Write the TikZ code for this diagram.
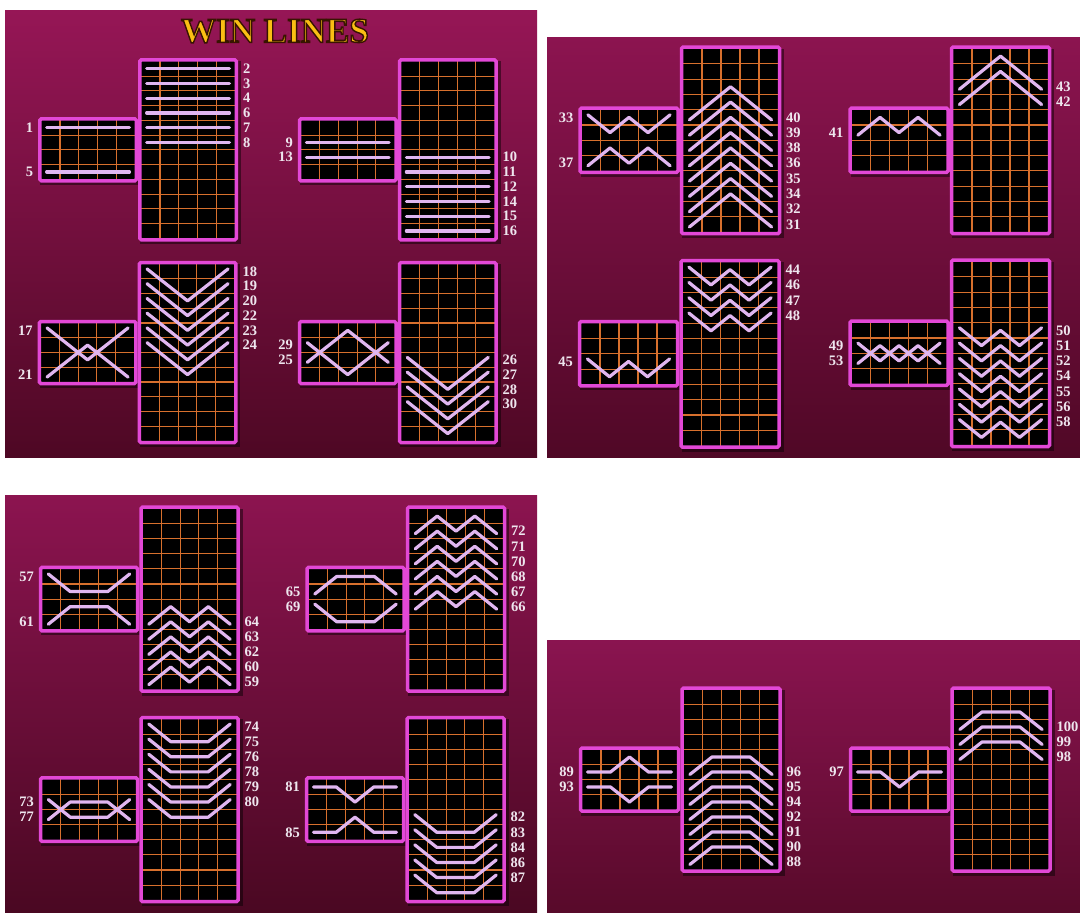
\documentclass[tikz,border=0pt]{standalone}
\usepackage{fontspec}
\setmainfont{Liberation Serif}
\newfontfamily\titlefont[FakeBold=4]{Liberation Serif Bold}
\definecolor{gridc}{RGB}{215,112,45}
\definecolor{bordc}{RGB}{226,72,214}
\definecolor{linec}{RGB}{224,182,240}
\definecolor{labc}{RGB}{238,230,238}
\definecolor{goldc}{RGB}{250,190,20}
\definecolor{pAt}{RGB}{150,22,86}
\definecolor{pAb}{RGB}{78,8,36}
\definecolor{pBt}{RGB}{140,20,80}
\definecolor{pBb}{RGB}{80,8,38}
\definecolor{pCt}{RGB}{140,20,80}
\definecolor{pCb}{RGB}{74,8,34}
\definecolor{pDt}{RGB}{138,20,80}
\definecolor{pDb}{RGB}{88,10,42}
\tikzset{
  gridln/.style={draw=gridc, line width=1.1pt},
  boxbd/.style={draw=bordc, line width=3.5pt, rounded corners=1.5pt},
  boxsh/.style={fill=black, opacity=0.45},
  payline/.style={draw=linec, line width=3.2pt, line cap=round, line join=round, shorten <=-4pt, shorten >=-4pt},
  lab/.style={text=labc, font=\bfseries\fontsize{14.5}{15}\selectfont, inner sep=0pt},
  titlefg/.style={text=goldc, font=\titlefont\fontsize{35}{38}\selectfont, inner sep=0pt},
}
\newcommand\Grp[4]{%
  \def\gL{#1}\def\gT{#2}\def\gw{#3}\def\gh{#4}%
  \pgfmathsetmacro\tR{#1+5*#3}%
  \pgfmathsetmacro\tB{#2+12*#4}%
  \pgfmathsetmacro\sL{#1-6.5-5*#3}%
  \pgfmathsetmacro\sR{#1-6.5}%
  \pgfmathsetmacro\sT{#2+4*#4}%
  \pgfmathsetmacro\sB{#2+8*#4}%
  \fill[boxsh] (\gL-1,\gT) rectangle (\tR+6,\tB+6);
  \fill[boxsh] (\sL-1,\sT) rectangle (\sR+6,\sB+6);
  \fill[black] (\gL,\gT) rectangle (\tR,\tB);
  \foreach \i in {1,...,4}{\draw[gridln] ({\gL+\i*\gw},\gT) -- ({\gL+\i*\gw},\tB);}
  \foreach \j in {1,...,11}{\draw[gridln] (\gL,{\gT+\j*\gh}) -- (\tR,{\gT+\j*\gh});}
  \draw[boxbd] (\gL-1.5,\gT-1.5) rectangle (\tR+1.5,\tB+1.5);
  \fill[black] (\sL,\sT) rectangle (\sR,\sB);
  \foreach \i in {1,...,4}{\draw[gridln] ({\sL+\i*\gw},\sT) -- ({\sL+\i*\gw},\sB);}
  \foreach \j in {1,2,3}{\draw[gridln] (\sL,{\sT+\j*\gh}) -- (\sR,{\sT+\j*\gh});}
  \draw[boxbd] (\sL-1.5,\sT-1.5) rectangle (\sR+1.5,\sB+1.5);
}
\newcommand\TallLine[6]{%
  \draw[payline] ({\gL+0.5*\gw},{\gT+(#1-0.5)*\gh}) -- ({\gL+1.5*\gw},{\gT+(#2-0.5)*\gh}) -- ({\gL+2.5*\gw},{\gT+(#3-0.5)*\gh}) -- ({\gL+3.5*\gw},{\gT+(#4-0.5)*\gh}) -- ({\gL+4.5*\gw},{\gT+(#5-0.5)*\gh});
  \node[lab,anchor=west] (n#6) at ({\tR+8},{\gT+(#5-0.5)*\gh}) {#6};
}
\newcommand\SmallLine[6]{%
  \draw[payline] ({\sL+0.5*\gw},{\sT+(#1-0.5)*\gh}) -- ({\sL+1.5*\gw},{\sT+(#2-0.5)*\gh}) -- ({\sL+2.5*\gw},{\sT+(#3-0.5)*\gh}) -- ({\sL+3.5*\gw},{\sT+(#4-0.5)*\gh}) -- ({\sL+4.5*\gw},{\sT+(#5-0.5)*\gh});
  \node[lab,anchor=east] (n#6) at ({\sL-8},{\sT+(#1-0.5)*\gh}) {#6};
}
\begin{document}
\begin{tikzpicture}[x=1pt,y=-1pt]
\useasboundingbox (0,0) rectangle (1080,913);
\fill[white] (0,0) rectangle (1080,913);
% panels
\shade[top color=pAt, bottom color=pAb] (5,10) rectangle (537,457);
\shade[top color=pBt, bottom color=pBb] (547,37) rectangle (1080,457);
\shade[top color=pCt, bottom color=pCb] (5,495) rectangle (537,913);
\shade[top color=pDt, bottom color=pDb] (547,640) rectangle (1080,913);
% title
\node[titlefg] (title) at (275,31) {\special{pdf:code 0.22 0.08 0 RG}WIN LINES};
% ---- group 1
\Grp{141.3}{61.3}{18.7}{14.75}
\SmallLine{1}{1}{1}{1}{1}{1}
\SmallLine{4}{4}{4}{4}{4}{5}
\TallLine{1}{1}{1}{1}{1}{2}
\TallLine{2}{2}{2}{2}{2}{3}
\TallLine{3}{3}{3}{3}{3}{4}
\TallLine{4}{4}{4}{4}{4}{6}
\TallLine{5}{5}{5}{5}{5}{7}
\TallLine{6}{6}{6}{6}{6}{8}
% ---- group 2
\Grp{401}{61.3}{18.7}{14.75}
\SmallLine{2}{2}{2}{2}{2}{9}
\SmallLine{3}{3}{3}{3}{3}{13}
\TallLine{7}{7}{7}{7}{7}{10}
\TallLine{8}{8}{8}{8}{8}{11}
\TallLine{9}{9}{9}{9}{9}{12}
\TallLine{10}{10}{10}{10}{10}{14}
\TallLine{11}{11}{11}{11}{11}{15}
\TallLine{12}{12}{12}{12}{12}{16}
% ---- group 3
\Grp{140.8}{264}{18.7}{14.75}
\SmallLine{1}{2}{3}{2}{1}{17}
\SmallLine{4}{3}{2}{3}{4}{21}
\TallLine{1}{2}{3}{2}{1}{18}
\TallLine{2}{3}{4}{3}{2}{19}
\TallLine{3}{4}{5}{4}{3}{20}
\TallLine{4}{5}{6}{5}{4}{22}
\TallLine{5}{6}{7}{6}{5}{23}
\TallLine{6}{7}{8}{7}{6}{24}
% ---- group 4
\Grp{401}{264}{18.7}{14.75}
\SmallLine{2}{3}{4}{3}{2}{29}
\SmallLine{3}{2}{1}{2}{3}{25}
\TallLine{7}{8}{9}{8}{7}{26}
\TallLine{8}{9}{10}{9}{8}{27}
\TallLine{9}{10}{11}{10}{9}{28}
\TallLine{10}{11}{12}{11}{10}{30}
% ---- group 5
\Grp{683}{48.5}{19}{15.3}
\SmallLine{1}{2}{1}{2}{1}{33}
\SmallLine{4}{3}{4}{3}{4}{37}
\TallLine{5}{4}{3}{4}{5}{40}
\TallLine{6}{5}{4}{5}{6}{39}
\TallLine{7}{6}{5}{6}{7}{38}
\TallLine{8}{7}{6}{7}{8}{36}
\TallLine{9}{8}{7}{8}{9}{35}
\TallLine{10}{9}{8}{9}{10}{34}
\TallLine{11}{10}{9}{10}{11}{32}
\TallLine{12}{11}{10}{11}{12}{31}
% ---- group 6
\Grp{953}{48.5}{19}{15.3}
\SmallLine{2}{1}{2}{1}{2}{41}
\TallLine{3}{2}{1}{2}{3}{43}
\TallLine{4}{3}{2}{3}{4}{42}
% ---- group 7
\Grp{682.5}{262}{19}{15.3}
\SmallLine{3}{4}{3}{4}{3}{45}
\TallLine{1}{2}{1}{2}{1}{44}
\TallLine{2}{3}{2}{3}{2}{46}
\TallLine{3}{4}{3}{4}{3}{47}
\TallLine{4}{5}{4}{5}{4}{48}
% ---- group 8
\Grp{953}{261.5}{19}{15.3}
\SmallLine{2}{3}{2}{3}{2}{49}
\SmallLine{3}{2}{3}{2}{3}{53}
\TallLine{5}{6}{5}{6}{5}{50}
\TallLine{6}{7}{6}{7}{6}{51}
\TallLine{7}{8}{7}{8}{7}{52}
\TallLine{8}{9}{8}{9}{8}{54}
\TallLine{9}{10}{9}{10}{9}{55}
\TallLine{10}{11}{10}{11}{10}{56}
\TallLine{11}{12}{11}{12}{11}{58}
% ---- group 9
\Grp{142.5}{508.5}{18.8}{15.1}
\SmallLine{1}{2}{2}{2}{1}{57}
\SmallLine{4}{3}{3}{3}{4}{61}
\TallLine{8}{7}{8}{7}{8}{64}
\TallLine{9}{8}{9}{8}{9}{63}
\TallLine{10}{9}{10}{9}{10}{62}
\TallLine{11}{10}{11}{10}{11}{60}
\TallLine{12}{11}{12}{11}{12}{59}
% ---- group 10
\Grp{409}{508.5}{18.8}{15.1}
\SmallLine{2}{1}{1}{1}{2}{65}
\SmallLine{3}{4}{4}{4}{3}{69}
\TallLine{2}{1}{2}{1}{2}{72}
\TallLine{3}{2}{3}{2}{3}{71}
\TallLine{4}{3}{4}{3}{4}{70}
\TallLine{5}{4}{5}{4}{5}{68}
\TallLine{6}{5}{6}{5}{6}{67}
\TallLine{7}{6}{7}{6}{7}{66}
% ---- group 11
\Grp{142.5}{719}{18.8}{15.1}
\SmallLine{2}{3}{3}{3}{2}{73}
\SmallLine{3}{2}{2}{2}{3}{77}
\TallLine{1}{2}{2}{2}{1}{74}
\TallLine{2}{3}{3}{3}{2}{75}
\TallLine{3}{4}{4}{4}{3}{76}
\TallLine{4}{5}{5}{5}{4}{78}
\TallLine{5}{6}{6}{6}{5}{79}
\TallLine{6}{7}{7}{7}{6}{80}
% ---- group 12
\Grp{408.5}{719}{18.8}{15.1}
\SmallLine{1}{1}{2}{1}{1}{81}
\SmallLine{4}{4}{3}{4}{4}{85}
\TallLine{7}{8}{8}{8}{7}{82}
\TallLine{8}{9}{9}{9}{8}{83}
\TallLine{9}{10}{10}{10}{9}{84}
\TallLine{10}{11}{11}{11}{10}{86}
\TallLine{11}{12}{12}{12}{11}{87}
% ---- group 13
\Grp{683.5}{689.5}{19}{15}
\SmallLine{2}{2}{1}{2}{2}{89}
\SmallLine{3}{3}{4}{3}{3}{93}
\TallLine{6}{5}{5}{5}{6}{96}
\TallLine{7}{6}{6}{6}{7}{95}
\TallLine{8}{7}{7}{7}{8}{94}
\TallLine{9}{8}{8}{8}{9}{92}
\TallLine{10}{9}{9}{9}{10}{91}
\TallLine{11}{10}{10}{10}{11}{90}
\TallLine{12}{11}{11}{11}{12}{88}
% ---- group 14
\Grp{953.5}{689.5}{19}{15}
\SmallLine{2}{2}{3}{2}{2}{97}
\TallLine{3}{2}{2}{2}{3}{100}
\TallLine{4}{3}{3}{3}{4}{99}
\TallLine{5}{4}{4}{4}{5}{98}
\end{tikzpicture}
\end{document}
